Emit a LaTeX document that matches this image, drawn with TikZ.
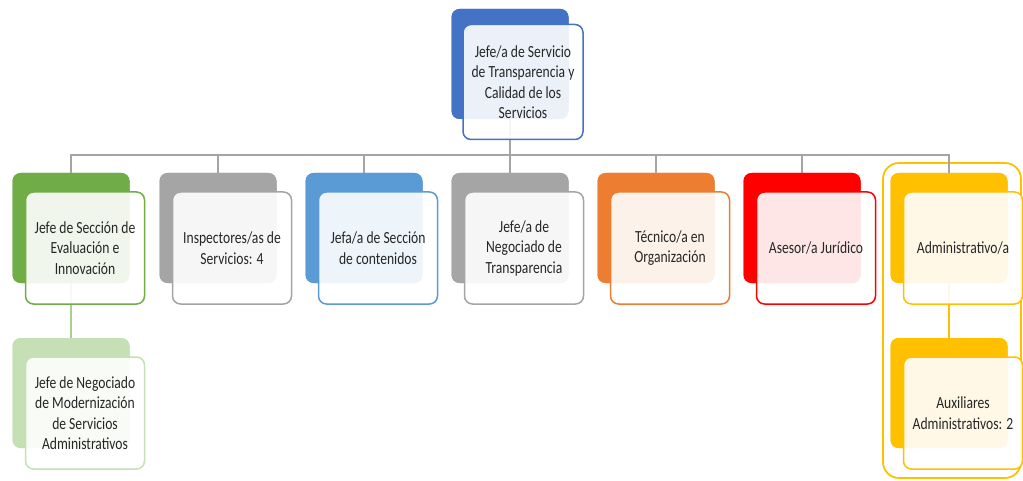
\documentclass[tikz,border=0pt]{standalone}
\usepackage{fontspec}
\setmainfont{Carlito}[FakeStretch=0.8]
\newcommand\myboxfont{\fontsize{17}{20.5}\selectfont}
\definecolor{cBlueD}{HTML}{4472C4}
\definecolor{cGreen}{HTML}{70AD47}
\definecolor{cGreenL}{HTML}{C5E0B4}
\definecolor{cGreenLine}{HTML}{A9D18E}
\definecolor{cGray}{HTML}{A5A5A5}
\definecolor{cBlue}{HTML}{5B9BD5}
\definecolor{cOrange}{HTML}{ED7D31}
\definecolor{cRed}{HTML}{FF0000}
\definecolor{cYellow}{HTML}{FFC000}
\definecolor{cText}{HTML}{262626}
\tikzset{
  backbox/.style={rounded corners=8pt, fill=#1, draw=none, minimum width=117pt, minimum height=110pt, inner sep=0pt, outer sep=0pt},
  frontbox/.style={rounded corners=8pt, draw=#1, line width=1.5pt, fill=white, fill opacity=0.9, text opacity=1,
    minimum width=119pt, minimum height=112pt, inner sep=2pt, outer sep=0pt, align=flush center, text=cText,
    font=\myboxfont, text width=114pt},
  conn/.style={draw=cGray, line width=2pt},
}
\begin{document}
\begin{tikzpicture}[x=1pt,y=-1pt]
\useasboundingbox (0,0) rectangle (1023,481);
% back boxes (positions)
\node[backbox=cBlueD] (tb) at (510,64) {};
\node[backbox=cGreen] (c1b) at (71,228) {};
\node[backbox=cGray] (c2b) at (218,228) {};
\node[backbox=cBlue] (c3b) at (364,228) {};
\node[backbox=cGray] (c4b) at (510,228) {};
\node[backbox=cOrange] (c5b) at (656,228) {};
\node[backbox=cRed] (c6b) at (802,228) {};
\node[backbox=cYellow] (c7b) at (949,228) {};
\node[backbox=cGreenL] (d1b) at (71,393) {};
\node[backbox=cYellow] (d7b) at (949,393) {};
% yellow frame
\node[draw=cYellow, line width=1.8pt, rounded corners=16pt, minimum width=138pt, minimum height=315pt, inner sep=0pt] (frame) at (952,320.5) {};
% connectors
\coordinate (bus) at (0,155);
\foreach \c in {c1b,c2b,c3b,c4b,c5b,c6b,c7b}{
  \draw[conn] (tb.south) -- (tb.south |- bus) -| (\c.north);
}
\draw[draw=cGreenLine, line width=1.5pt] (c1b.south) -- (d1b.north);
\draw[draw=cYellow, line width=1.5pt] (c7b.south) -- (d7b.north);
% redraw back boxes on top of connectors
\node[backbox=cBlueD] at (tb) {};
\foreach \c/\col in {c1b/cGreen,c2b/cGray,c3b/cBlue,c4b/cGray,c5b/cOrange,c6b/cRed,c7b/cYellow,d1b/cGreenL,d7b/cYellow}{
  \node[backbox=\col] at (\c) {};
}
% front boxes
\node[frontbox=cBlueD, minimum width=120pt, minimum height=115pt] (t) at ([shift={(13,18)}]tb.center) {Jefe/a de Servicio\\de Transparencia y\\Calidad de los\\Servicios};
\node[frontbox=cGreen] (c1) at ([shift={(14,20)}]c1b.center) {Jefe de Sección de\\Evaluación e\\Innovación};
\node[frontbox=cGray] (c2) at ([shift={(14,20)}]c2b.center) {Inspectores/as de\\Servicios: 4};
\node[frontbox=cBlue] (c3) at ([shift={(14,20)}]c3b.center) {Jefa/a de Sección\\de contenidos};
\node[frontbox=cGray] (c4) at ([shift={(14,20)}]c4b.center) {Jefe/a de\\Negociado de\\Transparencia};
\node[frontbox=cOrange] (c5) at ([shift={(14,20)}]c5b.center) {Técnico/a en\\Organización};
\node[frontbox=cRed] (c6) at ([shift={(14,20)}]c6b.center) {Asesor/a Jurídico};
\node[frontbox=cYellow] (c7) at ([shift={(14,20)}]c7b.center) {Administrativo/a};
\node[frontbox=cGreenL] (d1) at ([shift={(14,20)}]d1b.center) {Jefe de Negociado\\de Modernización\\de Servicios\\Administrativos};
\node[frontbox=cYellow] (d7) at ([shift={(14,20)}]d7b.center) {Auxiliares\\Administrativos: 2};
\end{tikzpicture}
\end{document}
